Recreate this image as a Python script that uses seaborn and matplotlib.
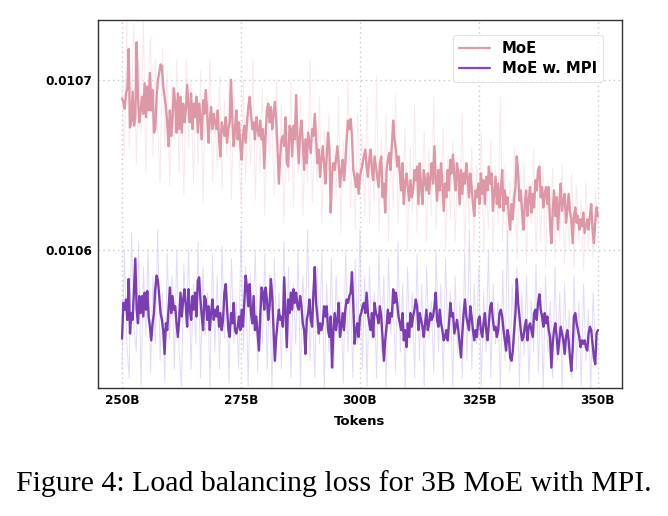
import numpy as np
import pandas as pd
import matplotlib
matplotlib.use("Agg")
import matplotlib.pyplot as plt
import seaborn as sns

# ---- data (loss values, 250B -> 350B tokens) ----
moe_smooth = [
    0.010689, 0.010687, 0.010683, 0.010692, 0.010695, 0.010718, 0.010672, 0.010676, 0.010693, 0.010673,
    0.010678, 0.010722, 0.010690, 0.010675, 0.010682, 0.010690, 0.010680, 0.010698, 0.010678, 0.010696,
    0.010682, 0.010704, 0.010682, 0.010694, 0.010669, 0.010671, 0.010690, 0.010700, 0.010704, 0.010709,
    0.010708, 0.010696, 0.010690, 0.010684, 0.010675, 0.010661, 0.010682, 0.010667, 0.010678, 0.010695,
    0.010686, 0.010669, 0.010692, 0.010671, 0.010690, 0.010669, 0.010686, 0.010675, 0.010682, 0.010697,
    0.010684, 0.010675, 0.010692, 0.010671, 0.010686, 0.010678, 0.010690, 0.010669, 0.010686, 0.010678,
    0.010665, 0.010688, 0.010680, 0.010694, 0.010682, 0.010663, 0.010676, 0.010684, 0.010671, 0.010680,
    0.010675, 0.010671, 0.010682, 0.010665, 0.010655, 0.010675, 0.010671, 0.010667, 0.010678, 0.010663,
    0.010671, 0.010675, 0.010700, 0.010676, 0.010661, 0.010671, 0.010682, 0.010665, 0.010675, 0.010661,
    0.010653, 0.010667, 0.010673, 0.010663, 0.010675, 0.010684, 0.010690, 0.010680, 0.010671, 0.010675,
    0.010665, 0.010678, 0.010671, 0.010667, 0.010676, 0.010665, 0.010671, 0.010648, 0.010667, 0.010682,
    0.010686, 0.010675, 0.010684, 0.010671, 0.010680, 0.010687, 0.010676, 0.010659, 0.010639, 0.010655,
    0.010665, 0.010667, 0.010661,
    0.010678, 0.010651, 0.010649, 0.010673, 0.010671, 0.010655, 0.010673, 0.010665, 0.010691, 0.010665,
    0.010651, 0.010669, 0.010676, 0.010663, 0.010647, 0.010665, 0.010651, 0.010669, 0.010663, 0.010657,
    0.010671, 0.010667, 0.010680, 0.010665, 0.010651, 0.010659, 0.010643, 0.010653, 0.010661, 0.010651,
    0.010639, 0.010655, 0.010669, 0.010659, 0.010622, 0.010645, 0.010651, 0.010647, 0.010653, 0.010661,
    0.010651, 0.010637, 0.010647, 0.010653, 0.010641, 0.010651, 0.010665, 0.010676, 0.010671, 0.010677,
    0.010667, 0.010647, 0.010643, 0.010637, 0.010645, 0.010633, 0.010643, 0.010647, 0.010651, 0.010655,
    0.010659, 0.010649, 0.010643, 0.010653, 0.010659, 0.010647, 0.010641, 0.010655, 0.010649, 0.010643,
    0.010637, 0.010651, 0.010655, 0.010631, 0.010639, 0.010622, 0.010647, 0.010653, 0.010657, 0.010647,
    0.010661, 0.010676, 0.010665, 0.010659, 0.010649, 0.010655, 0.010645, 0.010635, 0.010651, 0.010627,
    0.010639, 0.010645, 0.010637, 0.010629, 0.010641, 0.010631, 0.010635, 0.010647, 0.010641, 0.010649,
    0.010627, 0.010651, 0.010637, 0.010627, 0.010647, 0.010641, 0.010635, 0.010645, 0.010633, 0.010643,
    0.010651, 0.010639, 0.010661, 0.010643, 0.010629, 0.010647, 0.010635, 0.010651, 0.010639, 0.010623,
    0.010639, 0.010631, 0.010647, 0.010635, 0.010653, 0.010645, 0.010656, 0.010643, 0.010635, 0.010651,
    0.010645, 0.010627, 0.010647, 0.010633, 0.010645, 0.010639, 0.010651, 0.010643, 0.010631, 0.010645,
    0.010637, 0.010627, 0.010620, 0.010635, 0.010631, 0.010639, 0.010627, 0.010645, 0.010633, 0.010641,
    0.010627, 0.010643, 0.010635, 0.010649, 0.010639, 0.010645, 0.010623, 0.010633, 0.010643, 0.010627,
    0.010639, 0.010625, 0.010635, 0.010647, 0.010623, 0.010635, 0.010627, 0.010631, 0.010620, 0.010612,
    0.010627, 0.010618, 0.010631, 0.010637, 0.010655, 0.010645, 0.010629, 0.010635, 0.010622, 0.010612,
    0.010627, 0.010635, 0.010620, 0.010629, 0.010637, 0.010622, 0.010633, 0.010625, 0.010641, 0.010635,
    0.010647, 0.010649, 0.010631, 0.010637, 0.010625, 0.010633, 0.010637, 0.010627, 0.010637, 0.010616,
    0.010604, 0.010623, 0.010635, 0.010620, 0.010631, 0.010612, 0.010627, 0.010639, 0.010623, 0.010629,
    0.010633, 0.010616, 0.010623, 0.010633, 0.010623, 0.010618, 0.010604, 0.010620, 0.010625, 0.010616,
    0.010620, 0.010612, 0.010618, 0.010614, 0.010622, 0.010610, 0.010614, 0.010618, 0.010612, 0.010620,
    0.010627, 0.010612, 0.010604, 0.010616, 0.010625, 0.010620,
]

mpi_smooth = [
    0.010548, 0.010569, 0.010565, 0.010571, 0.010559, 0.010583, 0.010551, 0.010563, 0.010559, 0.010577,
    0.010595, 0.010565, 0.010557, 0.010573, 0.010563, 0.010573, 0.010561, 0.010575, 0.010565, 0.010576,
    0.010561, 0.010555, 0.010547, 0.010557, 0.010563, 0.010577, 0.010585, 0.010582, 0.010573, 0.010563,
    0.010559, 0.010553, 0.010539, 0.010557, 0.010553, 0.010565, 0.010578, 0.010563, 0.010573, 0.010565,
    0.010567, 0.010557, 0.010549, 0.010559, 0.010575, 0.010561, 0.010571, 0.010577, 0.010567, 0.010555,
    0.010577, 0.010565, 0.010559, 0.010573, 0.010565, 0.010575, 0.010561, 0.010582, 0.010584, 0.010571,
    0.010561, 0.010553, 0.010573, 0.010571, 0.010559, 0.010567, 0.010553, 0.010563, 0.010571, 0.010559,
    0.010565, 0.010561, 0.010567, 0.010555, 0.010563, 0.010553, 0.010559, 0.010575, 0.010580, 0.010567,
    0.010553, 0.010549, 0.010563, 0.010557, 0.010569, 0.010553, 0.010551, 0.010555, 0.010561, 0.010553,
    0.010565, 0.010555, 0.010569, 0.010585, 0.010578, 0.010567, 0.010580, 0.010563, 0.010557, 0.010573,
    0.010553, 0.010561, 0.010551, 0.010541, 0.010561, 0.010578, 0.010575, 0.010565, 0.010578, 0.010571,
    0.010559, 0.010567, 0.010583, 0.010573, 0.010553, 0.010535, 0.010549, 0.010557, 0.010565, 0.010559,
    0.010561, 0.010555,
    0.010584, 0.010563, 0.010543, 0.010571, 0.010563, 0.010575, 0.010565, 0.010577, 0.010569, 0.010575,
    0.010567, 0.010565, 0.010573, 0.010567, 0.010557, 0.010553, 0.010539, 0.010559, 0.010563, 0.010571,
    0.010559, 0.010555, 0.010575, 0.010590, 0.010569, 0.010561, 0.010551, 0.010557, 0.010553, 0.010557,
    0.010567, 0.010561, 0.010567, 0.010553, 0.010549, 0.010561, 0.010531, 0.010553, 0.010563, 0.010553,
    0.010559, 0.010569, 0.010549, 0.010555, 0.010563, 0.010553, 0.010565, 0.010571, 0.010569, 0.010573,
    0.010575, 0.010587, 0.010567, 0.010545, 0.010553, 0.010557, 0.010549, 0.010561, 0.010563, 0.010567,
    0.010569, 0.010563, 0.010575, 0.010563, 0.010557, 0.010553, 0.010563, 0.010549, 0.010569, 0.010563,
    0.010561, 0.010557, 0.010567, 0.010561, 0.010549, 0.010535, 0.010547, 0.010555, 0.010565, 0.010557,
    0.010563, 0.010561, 0.010577, 0.010569, 0.010575, 0.010569, 0.010561, 0.010557, 0.010553, 0.010563,
    0.010547, 0.010553, 0.010543, 0.010557, 0.010549, 0.010563, 0.010555, 0.010561, 0.010565, 0.010571,
    0.010567, 0.010553, 0.010563, 0.010559, 0.010555, 0.010549, 0.010557, 0.010565, 0.010553, 0.010557,
    0.010563, 0.010559, 0.010561, 0.010567, 0.010575, 0.010559, 0.010555, 0.010565, 0.010557, 0.010553,
    0.010547,
    0.010549, 0.010553, 0.010547, 0.010557, 0.010569, 0.010561, 0.010563, 0.010551, 0.010555, 0.010559,
    0.010553, 0.010545, 0.010537, 0.010551, 0.010563, 0.010571, 0.010561, 0.010557, 0.010553, 0.010567,
    0.010561, 0.010553, 0.010547, 0.010553, 0.010549, 0.010559, 0.010561, 0.010553, 0.010549, 0.010557,
    0.010563, 0.010553, 0.010547, 0.010557, 0.010567, 0.010569, 0.010559, 0.010553, 0.010555, 0.010549,
    0.010553, 0.010563, 0.010565, 0.010561, 0.010553, 0.010547, 0.010541, 0.010553, 0.010549, 0.010537,
    0.010535, 0.010541, 0.010553, 0.010563, 0.010583, 0.010569, 0.010561, 0.010553, 0.010547, 0.010549,
    0.010555, 0.010559, 0.010547, 0.010555, 0.010557, 0.010553, 0.010549, 0.010563, 0.010565, 0.010559,
    0.010569, 0.010574, 0.010565, 0.010561, 0.010555, 0.010563, 0.010557, 0.010561, 0.010553, 0.010549,
    0.010531, 0.010545, 0.010553, 0.010557, 0.010549, 0.010539, 0.010547, 0.010555, 0.010551, 0.010547,
    0.010539, 0.010549, 0.010553, 0.010547, 0.010537, 0.010529, 0.010541, 0.010561, 0.010563, 0.010557,
    0.010553, 0.010549, 0.010543, 0.010547, 0.010545, 0.010547, 0.010543, 0.010541, 0.010551, 0.010555,
    0.010553, 0.010545, 0.010537, 0.010533, 0.010551, 0.010553,
]

moe_raw = [
    0.010700, 0.010655, 0.010735, 0.010660, 0.010690, 0.010733, 0.010650, 0.010712, 0.010668, 0.010735,
    0.010645, 0.010700, 0.010725, 0.010655, 0.010712, 0.010672, 0.010640, 0.010718, 0.010660, 0.010705,
    0.010638, 0.010698, 0.010665, 0.010712, 0.010645, 0.010690, 0.010632, 0.010712, 0.010660, 0.010700,
    0.010640, 0.010692, 0.010650, 0.010705, 0.010628, 0.010690, 0.010668, 0.010712, 0.010640, 0.010680,
    0.010648, 0.010702, 0.010635, 0.010688, 0.010655, 0.010702, 0.010630, 0.010690, 0.010660, 0.010670,
    0.010625, 0.010700, 0.010640, 0.010685, 0.010650, 0.010712, 0.010630, 0.010680, 0.010645, 0.010695,
    0.010620, 0.010690, 0.010655, 0.010675, 0.010632, 0.010700, 0.010640, 0.010685, 0.010615, 0.010670,
    0.010640, 0.010700, 0.010625, 0.010672, 0.010645, 0.010690, 0.010620, 0.010668, 0.010640, 0.010712,
    0.010628, 0.010665, 0.010640, 0.010690, 0.010615, 0.010670, 0.010650, 0.010680, 0.010622, 0.010660,
    0.010630, 0.010690, 0.010610, 0.010665, 0.010640, 0.010700, 0.010625, 0.010660, 0.010612, 0.010680,
    0.010635, 0.010668, 0.010620, 0.010690, 0.010615, 0.010660, 0.010628, 0.010702, 0.010610, 0.010665,
    0.010632, 0.010680, 0.010605, 0.010660, 0.010625, 0.010692, 0.010615, 0.010655, 0.010630, 0.010672,
    0.010600, 0.010660, 0.010622, 0.010685, 0.010610, 0.010650, 0.010630, 0.010670, 0.010605, 0.010660,
    0.010620, 0.010690, 0.010612, 0.010648, 0.010625, 0.010672, 0.010600, 0.010655, 0.010618, 0.010665,
    0.010605, 0.010650, 0.010625, 0.010680, 0.010598, 0.010645, 0.010615, 0.010660, 0.010602, 0.010650,
    0.010620, 0.010670, 0.010598, 0.010640, 0.010612, 0.010665, 0.010600, 0.010648, 0.010615, 0.010690,
    0.010605, 0.010650, 0.010598, 0.010640, 0.010620, 0.010660, 0.010595, 0.010645, 0.010610, 0.010652,
    0.010592, 0.010640, 0.010615, 0.010660, 0.010598, 0.010645, 0.010605, 0.010650, 0.010590, 0.010640,
    0.010612, 0.010648, 0.010595, 0.010635, 0.010605, 0.010650, 0.010592, 0.010632, 0.010600, 0.010645,
    0.010590, 0.010638, 0.010605, 0.010630, 0.010588, 0.010640, 0.010600, 0.010625, 0.010595, 0.010635,
    0.010615,
]

mpi_raw = [
    0.010530, 0.010600, 0.010545, 0.010525, 0.010610, 0.010555, 0.010540, 0.010605, 0.010520, 0.010590,
    0.010550, 0.010600, 0.010528, 0.010585, 0.010545, 0.010612, 0.010535, 0.010575, 0.010522, 0.010598,
    0.010548, 0.010585, 0.010530, 0.010600, 0.010540, 0.010520, 0.010592, 0.010555, 0.010600, 0.010530,
    0.010580, 0.010545, 0.010605, 0.010525, 0.010590, 0.010550, 0.010575, 0.010520, 0.010598, 0.010540,
    0.010585, 0.010530, 0.010602, 0.010548, 0.010580, 0.010522, 0.010595, 0.010545, 0.010570, 0.010530,
    0.010612, 0.010540, 0.010590, 0.010520, 0.010585, 0.010555, 0.010600, 0.010528, 0.010580, 0.010545,
    0.010598, 0.010530, 0.010585, 0.010518, 0.010595, 0.010550, 0.010575, 0.010530, 0.010605, 0.010540,
    0.010590, 0.010525, 0.010580, 0.010545, 0.010600, 0.010520, 0.010585, 0.010550, 0.010612, 0.010535,
    0.010575, 0.010525, 0.010590, 0.010545, 0.010600, 0.010518, 0.010580, 0.010540, 0.010595, 0.010530,
    0.010585, 0.010550, 0.010570, 0.010522, 0.010600, 0.010540, 0.010580, 0.010525, 0.010595, 0.010545,
    0.010612, 0.010530, 0.010585, 0.010520, 0.010590, 0.010548, 0.010575, 0.010525, 0.010600, 0.010540,
    0.010585, 0.010520, 0.010595, 0.010550, 0.010570, 0.010528, 0.010605, 0.010540, 0.010580, 0.010518,
    0.010590, 0.010545, 0.010575, 0.010525, 0.010598, 0.010535, 0.010580, 0.010520, 0.010590, 0.010548,
    0.010570, 0.010528, 0.010600, 0.010540, 0.010580, 0.010522, 0.010595, 0.010545, 0.010575, 0.010520,
    0.010585, 0.010540, 0.010570, 0.010525, 0.010598, 0.010535, 0.010612, 0.010530, 0.010580, 0.010545,
    0.010590, 0.010520, 0.010575, 0.010540, 0.010600, 0.010525, 0.010580, 0.010545, 0.010570, 0.010518,
    0.010588, 0.010535, 0.010612, 0.010528, 0.010580, 0.010545, 0.010590, 0.010520, 0.010575, 0.010538,
    0.010585, 0.010522, 0.010570, 0.010540, 0.010592, 0.010528, 0.010578, 0.010518, 0.010585, 0.010540,
    0.010570, 0.010525, 0.010590, 0.010535, 0.010575, 0.010518, 0.010580, 0.010540, 0.010565, 0.010525,
    0.010585, 0.010530, 0.010570, 0.010520, 0.010580, 0.010535, 0.010565, 0.010518, 0.010575, 0.010540,
    0.010545,
]

series_names = ["MoE", "MoE w. MPI"]
xtick_values = [250, 275, 300, 325, 350]
xtick_labels = ["250B", "275B", "300B", "325B", "350B"]
ytick_values = [0.0106, 0.0107]
ytick_labels = ["0.0106", "0.0107"]
token_start, token_end = 250, 350

# ---- styling ----
colors = {"MoE": "#de97a6", "MoE w. MPI": "#7b3db2"}
raw_colors = {"MoE": "#f6dbe2", "MoE w. MPI": "#d2c4f3"}

sns.set_style("white")
plt.rcParams["font.family"] = ["DejaVu Sans"]
plt.rcParams["text.color"] = "black"

fig = plt.figure(figsize=(6.68, 5.16), dpi=100)
ax = fig.add_axes([0.1467, 0.248, 0.7843, 0.713])


def frame(values, name):
    return pd.DataFrame({
        "Tokens": np.linspace(token_start, token_end, len(values)),
        "loss": values,
        "model": name,
    })


raw_df = pd.concat([frame(moe_raw, series_names[0]), frame(mpi_raw, series_names[1])])
smooth_df = pd.concat([frame(moe_smooth, series_names[0]), frame(mpi_smooth, series_names[1])])

sns.lineplot(data=raw_df, x="Tokens", y="loss", hue="model", palette=raw_colors,
             linewidth=0.7, alpha=0.6, legend=False, ax=ax, estimator=None)
sns.lineplot(data=smooth_df, x="Tokens", y="loss", hue="model", palette=colors,
             linewidth=1.7, ax=ax, estimator=None)

ax.set_xlim(244.95, 355.05)
ax.set_ylim(0.010519, 0.010735)
ax.set_xticks(xtick_values)
ax.set_xticklabels(xtick_labels, fontsize=8.7, fontweight="bold", color="black")
ax.set_yticks(ytick_values)
ax.set_yticklabels(ytick_labels, fontsize=8.7, fontweight="bold", color="black")
ax.set_xlabel("Tokens", fontsize=9.5, fontweight="bold", labelpad=6, color="black")
ax.set_ylabel("")
ax.tick_params(axis="both", direction="out", length=2.5, width=0.8, color="#333333", pad=1.8)

ax.grid(True, linestyle=(0, (1, 2.5)), color="#c8c8c8", linewidth=1.0)
for s in ax.spines.values():
    s.set_visible(True)
    s.set_color("#333333")
    s.set_linewidth(1.0)

leg = ax.legend(loc="upper right", bbox_to_anchor=(0.9637, 0.959), borderaxespad=0,
                prop={"weight": "bold", "size": 10.7}, frameon=True,
                handlelength=2.1, borderpad=0.4, labelspacing=0.35, handletextpad=0.8)
leg.get_frame().set_edgecolor("#dddddd")
leg.get_frame().set_linewidth(0.8)
for t in leg.get_texts():
    t.set_color("black")
leg_colors = ["#e09aa8", "#8a40d0"]
for h, c in zip(leg.get_lines(), leg_colors):
    h.set_linewidth(1.6)
    h.set_color(c)

fig.text(0.5, 0.063, "Figure 4: Load balancing loss for 3B MoE with MPI.",
         ha="center", va="center", fontsize=21.5, color="black",
         family=["Liberation Serif"])

fig.savefig("out.png", dpi=100, facecolor="white")
